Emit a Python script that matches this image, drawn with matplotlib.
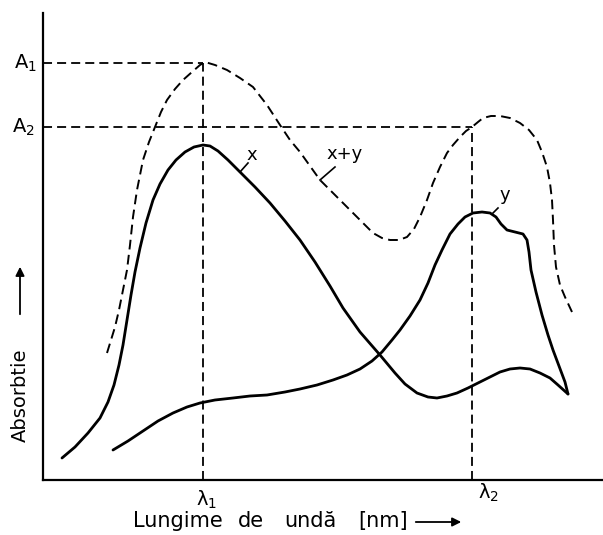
import numpy as np
import matplotlib
matplotlib.use("Agg")
import matplotlib.pyplot as plt
from matplotlib.patches import FancyArrowPatch

# curves (x = wavelength units from origin, y = absorbance units)
x_curve_wl = [19, 32, 45, 57, 65, 71, 76, 80, 84, 88, 92, 97, 103, 110, 117, 125, 133, 142, 151, 160,
              167, 175, 185, 197, 212, 227, 242, 257, 272, 287, 300, 317, 337, 352, 362, 374, 385, 394,
              404, 414, 425, 437, 447, 457, 467, 477, 487, 497, 507, 515, 525]
x_curve_abs = [22, 33, 47, 62, 78, 95, 115, 135, 160, 185, 208, 232, 257, 280, 296, 310, 320, 328, 333, 335,
               334, 329, 320, 308, 293, 277, 259, 240, 218, 194, 172, 148, 125, 107, 96, 87, 83, 82,
               84, 87, 92, 98, 103, 108, 111, 112, 111, 107, 102, 95, 86]

y_curve_wl = [70, 85, 100, 115, 130, 144, 157, 172, 190, 207, 224, 242, 257, 274, 290, 304, 317, 329,
              339, 349, 357, 367, 377, 385, 392, 399, 407, 415, 422, 430, 439, 447, 453, 458, 464, 472,
              480, 484, 486, 488, 493, 499, 505, 510, 516, 522, 525]
y_curve_abs = [30, 39, 49, 59, 67, 73, 77, 80, 82, 84, 85, 88, 91, 95, 100, 105, 111, 119,
               128, 140, 150, 164, 180, 197, 215, 230, 246, 256, 263, 267, 268, 267, 263, 256, 250, 248,
               246, 240, 228, 210, 188, 165, 145, 130, 114, 98, 86]

xy_curve_wl = [64, 68, 72, 76, 80, 84, 87, 90, 94, 100, 106, 112, 118, 124, 132, 140, 149, 157, 162,
               172, 184, 197, 210, 224, 237, 247, 257, 267, 277, 292, 307, 319, 330, 339, 347, 356, 364,
               371, 377, 384, 390, 397, 404, 410, 417, 423, 429, 435, 440, 448, 457, 467, 477, 486, 494,
               499, 504, 507, 509, 510, 511, 513, 517, 522, 529]
xy_curve_abs = [127, 140, 153, 170, 190, 210, 235, 263, 290, 320, 338, 353, 368, 380, 391, 400, 408, 415, 418,
                415, 410, 402, 393, 375, 355, 340, 328, 314, 300, 285, 270, 258, 247, 242, 240, 240, 243,
                251, 263, 280, 297, 313, 327, 335, 343, 349, 353, 358, 362, 364, 364, 362, 357, 350, 340,
                328, 313, 297, 280, 260, 235, 213, 195, 183, 168]

lam1, lam2 = 160, 429
A1, A2 = 417, 353
lam_labels = ["λ$_1$", "λ$_2$"]
A_labels = ["A$_1$", "A$_2$"]

fig = plt.figure(figsize=(6.03, 5.35), dpi=100)
ax = fig.add_axes([43 / 603, 55 / 535, 560 / 603, 467 / 535])
ax.set_xlim(0, 560)
ax.set_ylim(0, 467)

for s in ["top", "right"]:
    ax.spines[s].set_visible(False)
for s in ["left", "bottom"]:
    ax.spines[s].set_linewidth(1.6)
ax.set_xticks([])
ax.set_yticks([])

dash = dict(color="black", lw=1.3, dashes=(5.0, 2.8))
ax.plot([0, lam1], [A1, A1], **dash)
ax.plot([0, lam2], [A2, A2], **dash)
ax.plot([lam1, lam1], [0, A1], **dash)
ax.plot([lam2, lam2], [0, A2], **dash)

solid = dict(color="black", lw=2.0, solid_joinstyle="round", solid_capstyle="round")
ax.plot(x_curve_wl, x_curve_abs, **solid)
ax.plot(y_curve_wl, y_curve_abs, **solid)
ax.plot(xy_curve_wl, xy_curve_abs, color="black", lw=1.4, dashes=(5.0, 2.8))

# curve labels with leader ticks
ax.plot([197, 205], [308, 317], color="black", lw=1.2)
ax.text(209, 325, "x", fontsize=13, ha="center", va="center")
ax.plot([277, 292], [300, 313], color="black", lw=1.2)
ax.text(302, 326, "x+y", fontsize=13, ha="center", va="center")
ax.plot([450, 455], [267, 272], color="black", lw=1.2)
ax.text(462, 285, "y", fontsize=13, ha="center", va="center")

tk = dict(fontsize=14, ha="center", va="center", clip_on=False)
ax.text(lam1 + 4, -20, lam_labels[0], **tk)
ax.text(lam2 + 16, -13, lam_labels[1], **tk)
ax.text(-18, A1, A_labels[0], **tk)
ax.text(-20, A2, A_labels[1], **tk)

# axis titles, placed word by word to get the wide spacing of the scan
yl = 1 - 521 / 535
for word, xp in [("Lungime", 133), ("de", 238), ("undă", 284), ("[nm]", 358)]:
    fig.text(xp / 603, yl, word, fontsize=15, ha="left", va="center")
fig.add_artist(FancyArrowPatch((413 / 603, 1 - 522 / 535), (464 / 603, 1 - 522 / 535),
                               transform=fig.transFigure, arrowstyle="-|>",
                               mutation_scale=13, lw=1.3, color="black"))
fig.text(20 / 603, 1 - 395 / 535, "Absorbtie", fontsize=14, rotation=90, ha="center", va="center")
fig.add_artist(FancyArrowPatch((20 / 603, 1 - 317 / 535), (20 / 603, 1 - 264 / 535),
                               transform=fig.transFigure, arrowstyle="-|>",
                               mutation_scale=13, lw=1.3, color="black"))

fig.savefig("out.png", dpi=100)
